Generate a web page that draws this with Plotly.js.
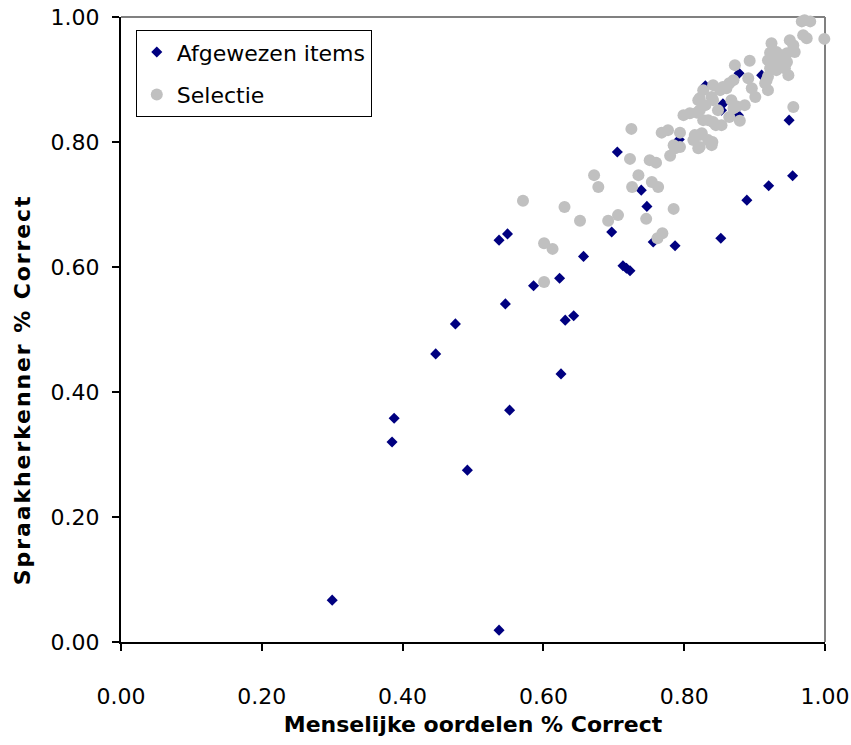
<!DOCTYPE html>
<html>
<head>
<meta charset="utf-8">
<script src="https://cdn.plot.ly/plotly-3.0.1.min.js"></script>
<style>
html,body{margin:0;padding:0;background:#fff;overflow:hidden}
text.annotation-text{letter-spacing:1.9px}
</style>
</head>
<body>
<div id="chart" style="width:851px;height:745px"></div>
<script>
// Afgewezen items (rejected items)
const afgX = [0.300,0.537,0.537,0.549,0.623,0.586,0.546,0.475,0.631,0.643,0.447,0.625,0.552,0.388,0.385,0.492,0.657,0.705,0.739,0.747,0.697,0.756,0.787,0.852,0.713,0.718,0.723,0.954,0.920,0.889,0.949,0.855,0.853,0.878,0.910,0.924,0.830,0.793,0.877];
const afgY = [0.067,0.019,0.643,0.653,0.582,0.570,0.541,0.509,0.515,0.522,0.461,0.429,0.371,0.358,0.320,0.275,0.617,0.784,0.723,0.697,0.656,0.640,0.634,0.646,0.602,0.598,0.594,0.746,0.730,0.707,0.835,0.861,0.851,0.910,0.907,0.918,0.890,0.804,0.843];

// Selectie (selection)
const selX = [0.571,0.630,0.652,0.601,0.613,0.601,0.672,0.678,0.723,0.751,0.760,0.780,0.735,0.726,0.754,0.763,0.785,0.746,0.692,0.706,0.769,0.762,0.725,0.768,0.777,0.794,0.785,0.794,0.813,0.822,0.820,0.839,0.840,0.799,0.808,0.818,0.822,0.830,0.820,0.827,0.841,0.851,0.860,0.870,0.841,0.848,0.834,0.841,0.853,0.870,0.879,0.886,0.872,0.893,0.891,0.896,0.901,0.917,0.919,0.924,0.922,0.931,0.938,0.946,0.950,0.957,0.955,0.927,0.919,0.936,0.946,0.948,0.955,0.967,0.979,0.969,0.974,0.999,0.922,0.931,0.943,0.855,0.864,0.822,0.839,0.867,0.875,0.827,0.845,0.864,0.787,0.815,0.825,0.834,0.822,0.915,0.919,0.971];
const selY = [0.706,0.696,0.674,0.638,0.629,0.576,0.747,0.728,0.773,0.771,0.767,0.778,0.747,0.728,0.736,0.728,0.693,0.677,0.674,0.683,0.654,0.646,0.821,0.815,0.819,0.815,0.795,0.792,0.803,0.811,0.790,0.795,0.800,0.843,0.846,0.847,0.851,0.859,0.867,0.883,0.891,0.883,0.886,0.899,0.867,0.851,0.835,0.832,0.827,0.854,0.834,0.859,0.923,0.930,0.902,0.886,0.872,0.899,0.883,0.958,0.943,0.944,0.939,0.942,0.963,0.944,0.955,0.931,0.931,0.926,0.928,0.907,0.856,0.993,0.993,0.971,0.966,0.965,0.918,0.915,0.918,0.888,0.894,0.870,0.872,0.867,0.857,0.835,0.827,0.840,0.790,0.811,0.814,0.803,0.792,0.894,0.905,0.995];

const tickVals = [0, 0.2, 0.4, 0.6, 0.8, 1.0];
const tickText = ['0.00', '0.20', '0.40', '0.60', '0.80', '1.00'];

const FONT = 'DejaVu Sans, Liberation Sans, Arial, sans-serif';

const traces = [
  {
    type: 'scatter', mode: 'markers', name: 'Afgewezen items',
    x: afgX, y: afgY, legendgroup: 'a', cliponaxis: false,
    marker: {symbol: 'diamond', size: 8.5, color: '#000080'}
  },
  {
    type: 'scatter', mode: 'markers', name: 'Selectie',
    x: selX, y: selY, legendgroup: 'b', cliponaxis: false,
    marker: {symbol: 'circle', size: 12, color: '#C0C0C0'}
  }
];

const axisCommon = {
  range: [0, 1], tickvals: tickVals, ticktext: tickText,
  ticks: 'outside', ticklen: 7, tickwidth: 2, tickcolor: '#000',
  showline: true, linecolor: '#000', linewidth: 2,
  showgrid: false, zeroline: false, fixedrange: true,
  tickfont: {family: FONT, size: 22, color: '#000'}
};

const layout = {
  width: 851, height: 745,
  margin: {l: 121, r: 26, t: 17, b: 103},
  paper_bgcolor: '#fff', plot_bgcolor: '#fff',
  font: {family: FONT, color: '#000'},
  xaxis: Object.assign({}, axisCommon, {
    ticklabelstandoff: 27,
    title: {text: 'Menselijke oordelen % Correct', standoff: 8,
            font: {family: FONT, size: 22, color: '#000', weight: 'bold'}}
  }),
  yaxis: Object.assign({}, axisCommon, {ticklabelstandoff: 8}),
  annotations: [{
    text: 'Spraakherkenner % Correct', textangle: -90,
    xref: 'paper', yref: 'paper', x: -0.1406, y: 0.403,
    xanchor: 'center', yanchor: 'middle', showarrow: false,
    font: {family: FONT, size: 22, color: '#000', weight: 'bold'}
  }],
  shapes: [
    {type: 'line', xref: 'paper', yref: 'paper', x0: 0, x1: 1, y0: 1, y1: 1, layer: 'below', line: {color: '#808080', width: 2}},
    {type: 'line', xref: 'paper', yref: 'paper', x0: 1, x1: 1, y0: 0, y1: 1, layer: 'below', line: {color: '#808080', width: 2}}
  ],
  showlegend: true,
  legend: {
    x: 0.021, y: 0.979, xanchor: 'left', yanchor: 'top',
    bgcolor: '#fff', bordercolor: '#000', borderwidth: 1,
    font: {family: FONT, size: 22, color: '#000'},
    tracegroupgap: 11
  }
};

Plotly.newPlot('chart', traces, layout, {displayModeBar: false, staticPlot: true});
</script>
</body>
</html>
